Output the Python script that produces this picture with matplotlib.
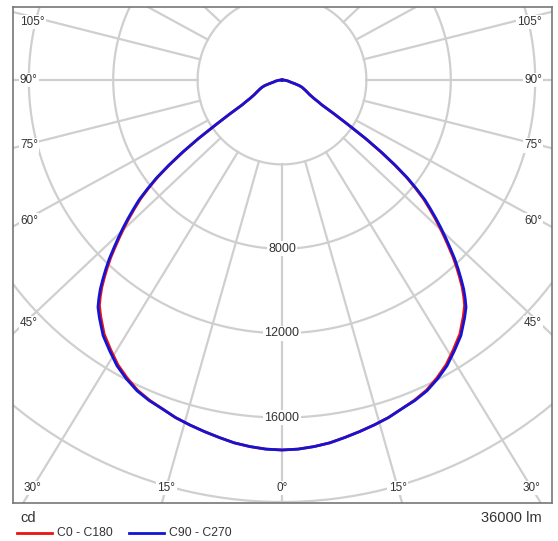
import numpy as np
import matplotlib
matplotlib.use("Agg")
import matplotlib.pyplot as plt

plt.rcParams['font.family'] = ['Liberation Sans', 'DejaVu Sans']

# gamma angles (deg from nadir) and luminous intensity (cd)
gamma = [0, 2.5, 5, 7.5, 10, 12.5, 15, 17.5, 20, 22.5, 25, 27.5, 30, 32.5, 35, 37.5,
         39, 40, 41, 42, 43, 44, 45, 46, 47, 48, 49, 50, 51, 52, 53, 54, 55, 56, 57, 58, 59, 60,
         62, 64, 66, 68, 70, 72, 74, 76, 78, 80, 82, 84, 86, 88, 90]
c90_c270 = [17535, 17510, 17440, 17345, 17200, 17060, 16920, 16775, 16585, 16445, 16255, 15970, 15640, 15210, 14785, 14215,
            13860, 13505, 13125, 12685, 12240, 11785, 11280, 10795, 10320, 9830, 9335, 8850, 8215, 7565, 6745, 5850, 4855, 3765, 2950, 2235, 1990, 1755,
            1495, 1345, 1225, 1110, 1010, 860, 615, 425, 355, 300, 235, 180, 120, 60, 0]
c0_c180 = [17535, 17510, 17440, 17345, 17200, 17060, 16920, 16775, 16585, 16420, 16215, 15910, 15570, 15130, 14695, 14115,
           13750, 13395, 13015, 12575, 12130, 11675, 11170, 10685, 10210, 9720, 9225, 8740, 8125, 7475, 6655, 5760, 4795, 3705, 2890, 2235, 1990, 1755,
           1495, 1345, 1225, 1110, 1010, 860, 615, 425, 355, 300, 235, 180, 120, 60, 0]

rings = [4000, 8000, 12000, 16000, 20000]
ring_labels = [8000, 12000, 16000]
spoke_angles = np.arange(0, 360, 15)
side_labels = [105, 90, 75, 60, 45]
bottom_labels = [30, 15, 0, 15, 30]
bottom_signs = [-1, -1, 0, 1, 1]
flux_text = "36000 lm"
unit_text = "cd"
series_names = ["C0 - C180", "C90 - C270"]
series_colors = ["#ee1111", "#1414d4"]

W, H = 558, 541
fig = plt.figure(figsize=(W / 100, H / 100), dpi=100)

# frame in pixels
left, right, top, bottom = 13, 552, 7, 503
cx, cy = 282, 80          # pole position (px)
s = 0.0211                # px per cd
k = 1.06                  # the source draws its spokes slightly widened

ax = fig.add_axes([left / W, 1 - bottom / H, (right - left) / W, (bottom - top) / H])
ax.set_xlim((left - cx) / s, (right - cx) / s)
ax.set_ylim((cy - bottom) / s, (cy - top) / s)
ax.set_xticks([])
ax.set_yticks([])
for sp in ax.spines.values():
    sp.set_color("#777777")
    sp.set_linewidth(1.2)

grid_c = "#cfcfcf"
t = np.linspace(0, 2 * np.pi, 400)
for r in rings:
    ax.plot(r * np.cos(t), r * np.sin(t), color=grid_c, lw=1.6, zorder=1)
for a in spoke_angles:
    ar = np.radians(a)
    dx, dy = k * np.sin(ar), -np.cos(ar)
    n = np.hypot(dx, dy)
    dx, dy = dx / n, dy / n
    ax.plot([rings[0] * dx, 40000 * dx], [rings[0] * dy, 40000 * dy],
            color=grid_c, lw=1.6, zorder=1)

txt_c = "#333333"
box = dict(facecolor="white", edgecolor="none", pad=1.0)
for r in ring_labels:
    ax.text(0, -r, str(r), ha="center", va="center", fontsize=9,
            color=txt_c, bbox=box, zorder=3)

# angle labels where the spokes reach the frame
for g in side_labels:
    gr = np.radians(g)
    y_px = cy + (cx - 24) * np.cos(gr) / (k * np.sin(gr))
    y_px = max(y_px, 22)
    y = (cy - y_px) / s
    ax.text((left + 7 - cx) / s, y, f"{g}°", ha="left", va="center",
            fontsize=8.5, color=txt_c, bbox=box, zorder=3)
    ax.text((right - 10 - cx) / s, y, f"{g}°", ha="right", va="center",
            fontsize=8.5, color=txt_c, bbox=box, zorder=3)

yb = 488
for g, sg in zip(bottom_labels, bottom_signs):
    x_px = cx + sg * k * np.tan(np.radians(g)) * (yb - cy)
    ax.text((x_px - cx) / s, (cy - yb) / s, f"{g}°", ha="center", va="center",
            fontsize=8.5, color=txt_c, bbox=box, zorder=3)

# curves, mirrored to both halves of each C-plane
g_arr = np.radians(np.array(gamma, dtype=float))
for vals, col, z in zip([c0_c180, c90_c270], series_colors, [4, 5]):
    I = np.array(vals, dtype=float)
    x = np.concatenate([-(I * np.sin(g_arr))[::-1], (I * np.sin(g_arr))[1:]])
    y = np.concatenate([-(I * np.cos(g_arr))[::-1], -(I * np.cos(g_arr))[1:]])
    ax.plot(x, y, color=col, lw=2.0, zorder=z, solid_joinstyle="round")

# footer
fig.text(20 / W, 1 - 518 / H, unit_text, ha="left", va="center", fontsize=10.5, color=txt_c)
fig.text(542 / W, 1 - 518 / H, flux_text, ha="right", va="center", fontsize=10.5, color=txt_c)

leg_y = 1 - 533 / H
for name, col, x0 in zip(series_names, series_colors, [17, 129]):
    fig.add_artist(plt.Line2D([x0 / W, (x0 + 35) / W], [leg_y, leg_y], color=col, lw=2.0))
    fig.text((x0 + 40) / W, leg_y, name, ha="left", va="center", fontsize=8.8, color=txt_c)

fig.savefig("out.png", dpi=100)
